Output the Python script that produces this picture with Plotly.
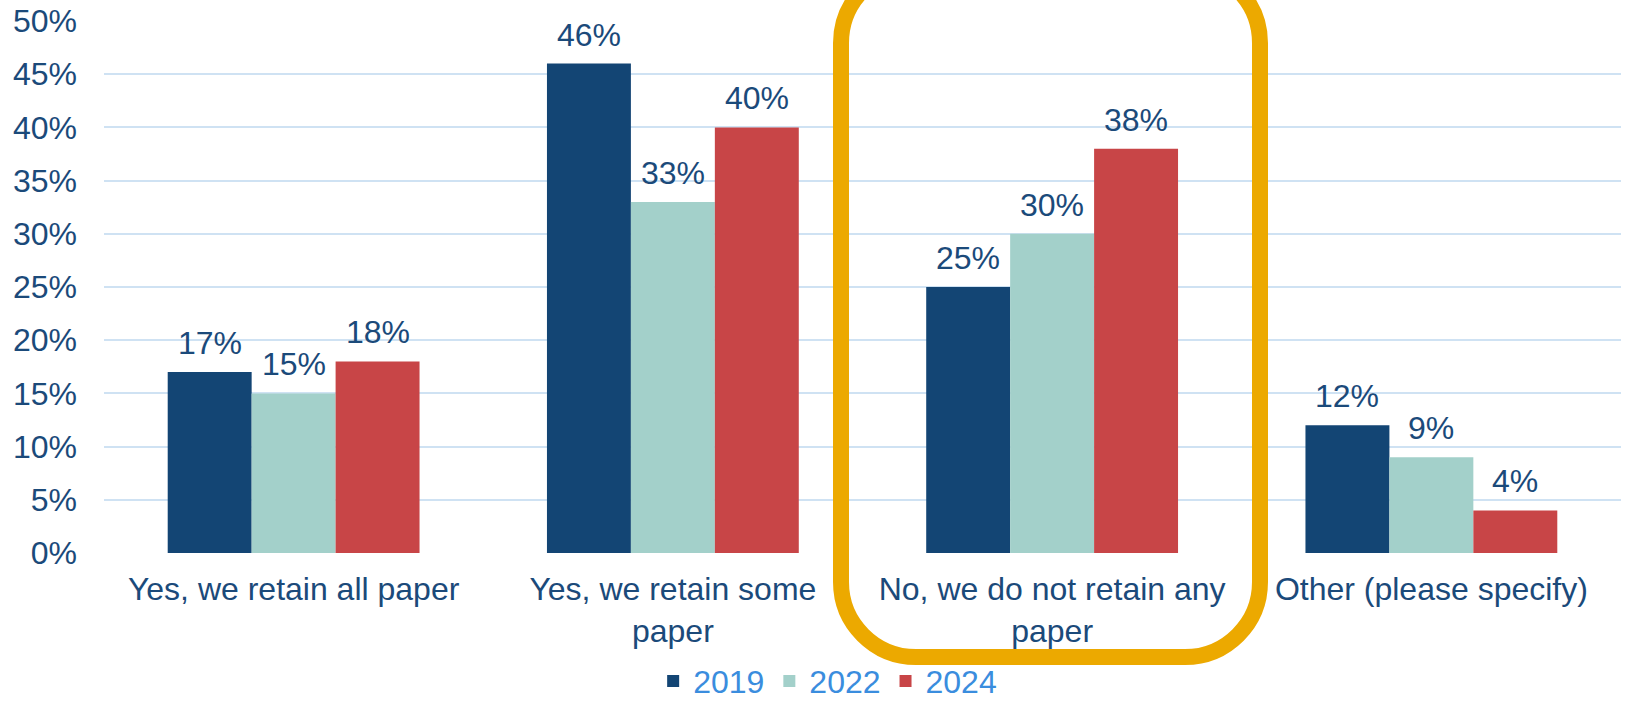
import plotly.graph_objects as go

categories = ["Yes, we retain all paper", "Yes, we retain some<br>paper",
              "No, we do not retain any<br>paper", "Other (please specify)"]
years = ["2019", "2022", "2024"]
v2019 = [0.17, 0.46, 0.25, 0.12]
v2022 = [0.15, 0.33, 0.30, 0.09]
v2024 = [0.18, 0.40, 0.38, 0.04]
colors = ["#134574", "#A3D0CA", "#C84547"]

FONT = "Arial, Liberation Sans, sans-serif"
DARK = "#1B4A7A"
FS = 32

W, H = 1626, 701
L, R, T, B = 104, 5, 21, 148
pw, ph = W - L - R, H - T - B
BARGAP = 0.336

fig = go.Figure()
series = [v2019, v2022, v2024]
for name, vals, c in zip(years, series, colors):
    fig.add_trace(go.Bar(
        x=categories, y=vals, name=name, marker_color=c, marker_line_width=0,
        hoverinfo="skip",
    ))

# value labels above each bar (positioned via the axis scales)
slot = (1 - BARGAP) / len(series)
for j, vals in enumerate(series):
    for i, v in enumerate(vals):
        fig.add_annotation(
            x=i + (j - (len(series) - 1) / 2) * slot, y=v, xref="x", yref="y",
            text=f"{round(v * 100)}%", showarrow=False,
            yanchor="bottom", yshift=9,
            font=dict(family=FONT, size=FS, color=DARK),
        )

def px2p(x, y):
    return (x - L) / pw, (H - B - y) / ph

def P(x, y):
    a, b = px2p(x, y)
    return f"{a:.5f},{b:.5f}"

# rounded rectangle highlight
x0, x1, y0, y1, r = 841, 1260, -32, 657, 75
k = 0.5523 * r
path = (
    f"M{P(x0 + r, y0)} L{P(x1 - r, y0)} "
    f"C{P(x1 - r + k, y0)} {P(x1, y0 + r - k)} {P(x1, y0 + r)} "
    f"L{P(x1, y1 - r)} "
    f"C{P(x1, y1 - r + k)} {P(x1 - r + k, y1)} {P(x1 - r, y1)} "
    f"L{P(x0 + r, y1)} "
    f"C{P(x0 + r - k, y1)} {P(x0, y1 - r + k)} {P(x0, y1 - r)} "
    f"L{P(x0, y0 + r)} "
    f"C{P(x0, y0 + r - k)} {P(x0 + r - k, y0)} {P(x0 + r, y0)} Z"
)
fig.add_shape(type="path", path=path, xref="paper", yref="paper",
              line=dict(color="#ECA900", width=16), fillcolor="rgba(0,0,0,0)")

fig.update_layout(
    width=W, height=H,
    margin=dict(l=L, r=R, t=T, b=B, pad=0, autoexpand=False),
    paper_bgcolor="white", plot_bgcolor="white",
    barmode="group", bargap=BARGAP, bargroupgap=0,
    font=dict(family=FONT, size=FS, color=DARK),
    legend=dict(orientation="h", x=0.362, xanchor="left", y=-0.241, yanchor="middle",
                font=dict(family=FONT, size=FS, color="#3A8DDE"),
                bgcolor="rgba(0,0,0,0)", tracegroupgap=0),
    showlegend=True,
)
fig.update_yaxes(range=[0, 0.5], dtick=0.05, tickformat=".0%", automargin=False,
                 showgrid=True, gridcolor="#CFE2F3", gridwidth=2,
                 zeroline=False, showline=False, ticks="",
                 ticklabelstandoff=26,
                 tickfont=dict(family=FONT, size=FS, color=DARK))
fig.update_xaxes(showgrid=False, showline=False, ticks="", ticklabelstandoff=14,
                 automargin=False,
                 tickfont=dict(family=FONT, size=FS, color=DARK))

fig.write_html("out.html", config={"displayModeBar": False},
               post_script="document.body.style.margin='0px';")
